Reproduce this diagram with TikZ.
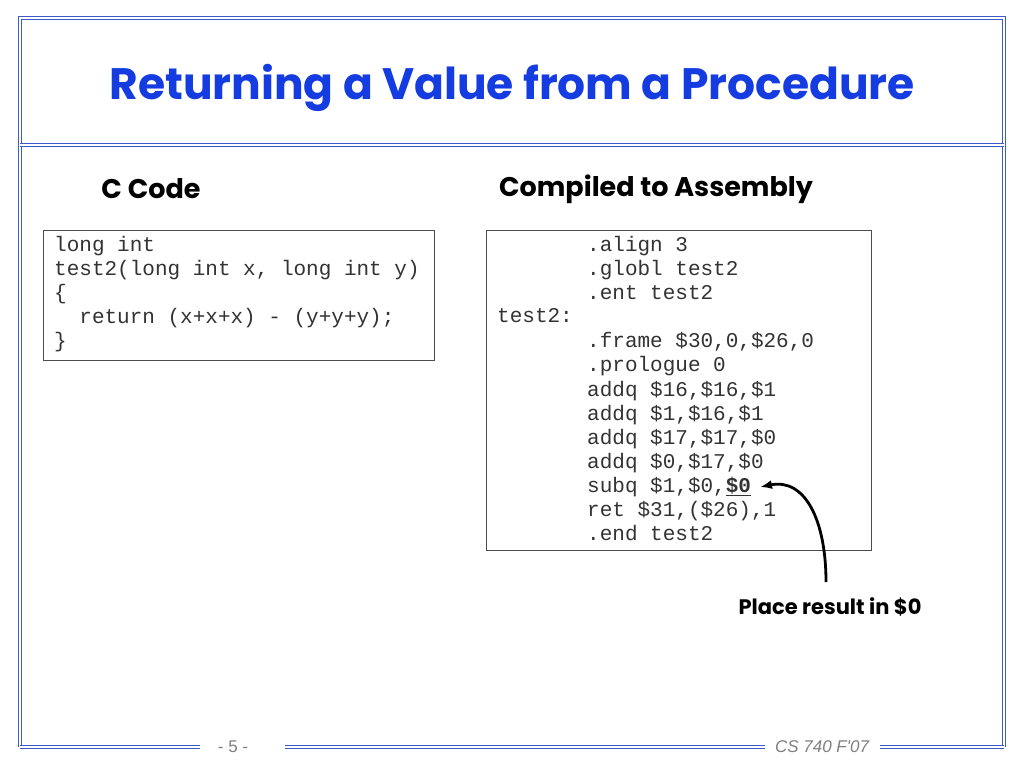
\documentclass[tikz,border=0pt]{standalone}
\usepackage{fontspec}
\usetikzlibrary{arrows.meta}
\setmainfont{Poppins}
\newfontfamily\codef{Liberation Mono}
\newfontfamily\footf{Liberation Sans}
\begin{document}
\begin{tikzpicture}[x=1pt,y=-1pt,
 dbl/.style={draw={rgb,255:red,60;green,90;blue,200},double=white,line width=1.6pt,double distance=1.2pt},
 code/.style={font=\codef\fontsize{21}{24.1}\selectfont,text=black!80,anchor=north west,align=left,inner sep=0},
 box/.style={draw=black!70,line width=0.8pt}]
\useasboundingbox (0,0) rectangle (1024,768);
\fill[white] (0,0) rectangle (1024,768);
\draw[dbl] (20,747) -- (20,18) -- (1004,18) -- (1004,747);
\draw[dbl] (20,747) -- (200,747);
\draw[dbl] (285,747) -- (765,747);
\draw[dbl] (880,747) -- (1004,747);
\draw[dbl] (20,145) -- (1004,145);
\node[font=\footf\fontsize{17}{17}\selectfont,text=black!50] (pg) at (233,747) {- 5 -};
\node[font=\footf\itshape\fontsize{17}{17}\selectfont,text=black!50] (ft) at (822,747) {CS 740 F'07};
\node[font=\bfseries\fontsize{44}{50}\selectfont,text={rgb,255:red,20;green,60;blue,225}] (title) at (512,88) {Returning a Value from a Procedure};
\node[font=\bfseries\fontsize{27}{30}\selectfont] (ch) at (151,189) {C Code};
\node[font=\bfseries\fontsize{27}{30}\selectfont] (ah) at (656,189) {Compiled to Assembly};
\node[box,minimum width=391,minimum height=130,anchor=north west] (cbox) at (43,230) {};
\node[code] (ctext) at (54,236) {long int\\test2(long int x, long int y)\\\{\\\ \ return (x+x+x) - (y+y+y);\\\}};
\node[box,minimum width=385,minimum height=320,anchor=north west] (abox) at (486,230) {};
\node[code] (lbl) at (497,308.3) {test2:};
\node[code] (atext) at (587,236) {.align 3\\.globl test2\\.ent test2\\\strut\\.frame \$30,0,\$26,0\\.prologue 0\\addq \$16,\$16,\$1\\addq \$1,\$16,\$1\\addq \$17,\$17,\$0\\addq \$0,\$17,\$0\\subq \$1,\$0,\underline{\textbf{\$0}}\\ret \$31,(\$26),1\\.end test2};
\coordinate (tip) at (760,487);
\node[font=\bfseries\fontsize{21}{24}\selectfont] (res) at (830,607) {Place result in \$0};
\draw[-{Latex[length=12pt,width=9pt]},line width=2.8pt] (826,582) .. controls (826,520) and (805,478) .. (tip);
\end{tikzpicture}
\end{document}
